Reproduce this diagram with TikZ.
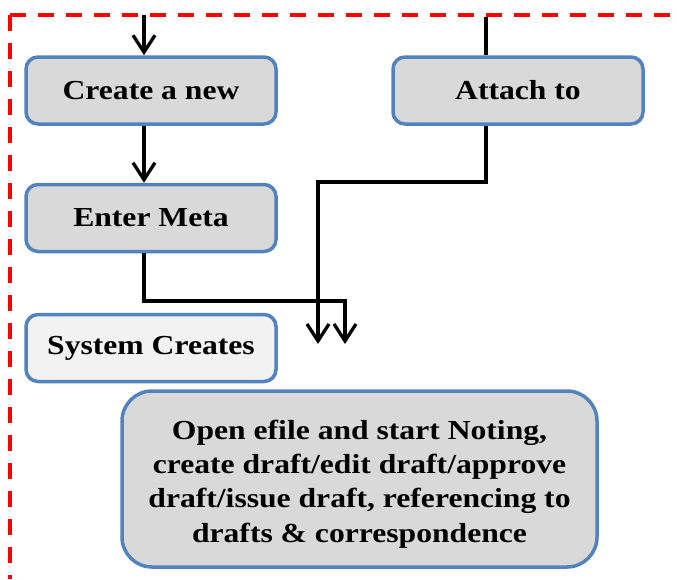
\documentclass[tikz,border=0pt]{standalone}
\usepackage{fontspec}
\setmainfont[FakeStretch=1.15]{Liberation Serif}
\usetikzlibrary{arrows.meta}
\definecolor{boxblue}{HTML}{5283BF}
\definecolor{boxgrey}{HTML}{D9D9D9}
\definecolor{boxlight}{HTML}{F2F2F2}
\tikzset{
  flowbox/.style={draw=boxblue, line width=3.5pt, fill=boxgrey, rounded corners=12pt,
    minimum width=250pt, minimum height=67pt, inner sep=0pt,
    font=\fontsize{27.5}{34.3}\selectfont\bfseries, text=black},
  bigbox/.style={flowbox, rounded corners=30pt, minimum width=475pt, minimum height=176pt, align=center},
  conn/.style={draw=black, line width=3.3pt},
  arr/.style={conn, -{Straight Barb[length=17pt,width=22pt,line width=3.3pt]}},
  frame/.style={draw=red, line width=4pt, dash pattern=on 16pt off 12pt}
}
\begin{document}
\begin{tikzpicture}[x=1pt,y=-1pt]
\useasboundingbox (0,0) rectangle (677,579);
\draw[frame] (10,15) -- (677,15);
\draw[frame] (10,15) -- (10,579);

\node[flowbox] (create) at (151,90.5) {Create a new};
\node[flowbox] (attach) at (518,90.5) {Attach to};
\node[flowbox] (meta) at (151,218) {Enter Meta};
\node[flowbox, fill=boxlight] (system) at (151,348) {System Creates};
\node[bigbox] (open) at (359.5,479) {\rule{0pt}{29pt}Open efile and start Noting,\\create draft/edit draft/approve\\draft/issue draft, referencing to\\drafts \& correspondence};

\coordinate (topin) at (144,15);
\coordinate (topattach) at (486,17);
\coordinate (tipA) at (318,344);
\coordinate (tipB) at (345,344);

\draw[arr] (topin) -- (create.north -| topin);
\draw[conn] (topattach) -- (attach.north -| topattach);
\draw[arr] (create.south -| topin) -- (meta.north -| topin);
\draw[arr] (meta.south -| topin) |- (345,301) -- (tipB);
\draw[arr] (attach.south -| topattach) |- (318,182) -- (tipA);
\end{tikzpicture}
\end{document}
